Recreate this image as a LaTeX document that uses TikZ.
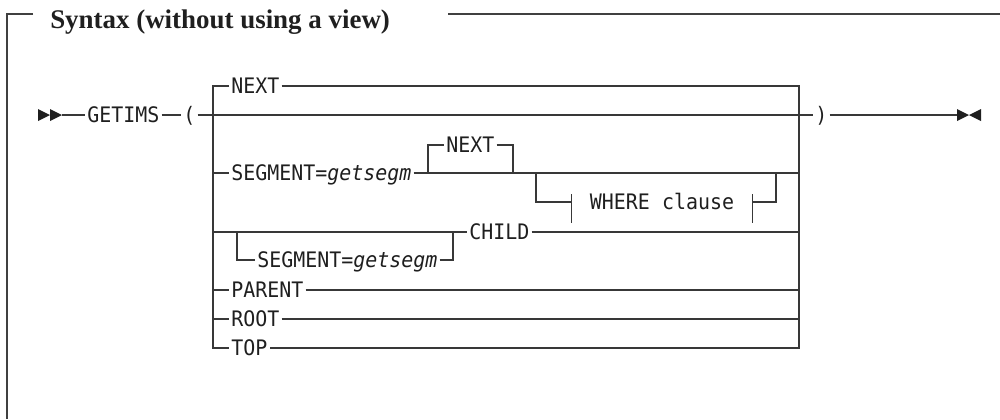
\documentclass[tikz,border=0pt]{standalone}
\usepackage{fontspec}
\newfontfamily\kwfont[FakeStretch=0.935,ItalicFont={DejaVu Sans Mono Oblique}]{DejaVu Sans Mono}
\newfontfamily\headfont{Liberation Serif}
\begin{document}
\begin{tikzpicture}[x=0.75pt,y=-0.75pt,
  rail/.style={draw=black!78,line width=0.85pt},
  kw/.style={font=\kwfont\fontsize{16}{16}\selectfont,inner xsep=1.5pt,inner ysep=0pt,
             text height=11.66pt,text depth=0pt,anchor=west,text=black!88},
  tip/.style={fill=black!88},
  frameline/.style={draw=black!75,line width=0.85pt}]
\useasboundingbox (0,0) rectangle (1000,419);

% heading and frame
\node[anchor=base west,inner sep=0pt,text=black!88,
      font=\headfont\bfseries\fontsize{20.2}{24}\selectfont]
  (title) at (50,28) {Syntax (without using a view)};
\draw[frameline] (33,14) -- (7,14) -- (7,419);
\draw[frameline] (448,14) -- (1000,14);

% entry and exit marks
\coordinate (s0) at (38,115);
\coordinate (s1) at (62,115);
\coordinate (e0) at (957,115);
\fill[tip] (s0) ++(0,-6) -- ++(12,6) -- ++(-12,6) -- cycle;
\fill[tip] (s0) ++(12,-6) -- ++(12,6) -- ++(-12,6) -- cycle;
\fill[tip] (e0) ++(0,-6) -- ++(12,6) -- ++(-12,6) -- cycle;
\fill[tip] (e0) ++(24,-6) -- ++(-12,6) -- ++(12,6) -- cycle;

% main line
\node[kw] (getims) at (85,115) {GETIMS};
\node[kw] (lpar) at (181,115) {(};
\node[kw] (rpar) at (813,115) {)};
\draw[rail] (s1) -- (getims.west);
\draw[rail] (getims.east) -- (lpar.west);
\draw[rail] (lpar.east) -- (rpar.west);
\draw[rail] (rpar.east) -- (e0);

% choice box
\coordinate (Ltop) at (213,86);
\coordinate (Lbot) at (213,348);
\coordinate (Rtop) at (799,86);
\coordinate (Rbot) at (799,348);

\node[kw] (next1) at (229,86) {NEXT};
\node[kw] (seg) at (229,173) {SEGMENT=\textit{getsegm}};
\node[kw] (child) at (467,232) {CHILD};
\node[kw] (seg2) at (255,260) {SEGMENT=\textit{getsegm}};
\node[kw] (parent) at (229,290) {PARENT};
\node[kw] (root) at (229,319) {ROOT};
\node[kw] (topn) at (229,348) {TOP};

\draw[rail] (next1.west) -- (Ltop) -- (Lbot) -- (topn.west);
\draw[rail] (next1.east) -- (Rtop) -- (Rbot) -- (topn.east);

% SEGMENT= branch
\draw[rail] (seg.west -| Ltop) -- (seg.west);
\draw[rail] (seg.east) -- (seg.east -| Rtop);

% NEXT default over the segment branch
\node[kw] (next2) at (444,145) {NEXT};
\coordinate (n2l) at (428,173);
\coordinate (n2r) at (513,173);
\draw[rail] (n2l) |- (next2.west);
\draw[rail] (next2.east) -| (n2r);

% optional WHERE clause fragment
\node[kw,anchor=center,inner xsep=13.5pt] (where) at (662,202) {WHERE clause};
\coordinate (w1) at (536,173);
\coordinate (w2) at (776,173);
\draw[rail] (w1) |- (where.west);
\draw[rail] (where.east) -| (w2);
\draw[rail] ([yshift=6pt]where.west) -- ([yshift=-15.75pt]where.west);
\draw[rail] ([yshift=6pt]where.east) -- ([yshift=-15.75pt]where.east);

% CHILD branch with optional segment
\coordinate (c1) at (237,232);
\coordinate (c2) at (453,232);
\draw[rail] (child.west -| Ltop) -- (child.west);
\draw[rail] (child.east) -- (child.east -| Rtop);
\draw[rail] (c1) |- (seg2.west);
\draw[rail] (seg2.east) -| (c2);

% remaining choices
\draw[rail] (parent.west -| Ltop) -- (parent.west);
\draw[rail] (parent.east) -- (parent.east -| Rtop);
\draw[rail] (root.west -| Ltop) -- (root.west);
\draw[rail] (root.east) -- (root.east -| Rtop);
\end{tikzpicture}
\end{document}
